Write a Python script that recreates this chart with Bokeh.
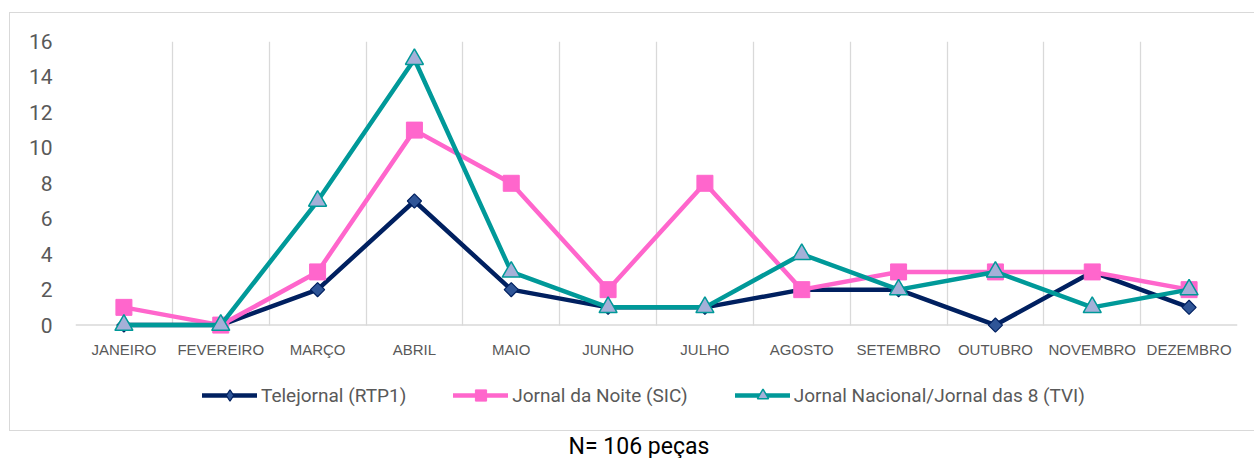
import numpy as np
from bokeh.plotting import figure
from bokeh.models import (FactorRange, Range1d, FixedTicker, Legend, LegendItem,
                          Span, Div)
from bokeh.layouts import column
from bokeh.embed import file_html
from bokeh.resources import INLINE

# ---- data ----
meses = ["JANEIRO", "FEVEREIRO", "MARÇO", "ABRIL", "MAIO", "JUNHO",
         "JULHO", "AGOSTO", "SETEMBRO", "OUTUBRO", "NOVEMBRO", "DEZEMBRO"]
rtp1 = [0, 0, 2, 7, 2, 1, 1, 2, 2, 0, 3, 1]
sic = [1, 0, 3, 11, 8, 2, 8, 2, 3, 3, 3, 2]
tvi = [0, 0, 7, 15, 3, 1, 1, 4, 2, 3, 1, 2]
y_ticks = [0, 2, 4, 6, 8, 10, 12, 14, 16]
nomes = ["Telejornal (RTP1)", "Jornal da Noite (SIC)",
         "Jornal Nacional/Jornal das 8 (TVI)"]
nota = "N= 106 peças"

FONT = "Roboto"
GRAY_TXT = "#595959"
GRID = "#d9d9d9"
BORDER = "1px solid #d9d9d9"

# series styles
styles = [
    dict(line_color="#002060", marker="square", angle=np.pi / 4, size=10,
         leg_marker="diamond", fill_color="#2f5597", m_line="#002060", m_lw=1.2),
    dict(line_color="#ff66cc", marker="square", angle=0.0, size=16,
         leg_marker="square", fill_color="#ff66cc", m_line="#ff66cc", m_lw=1.0),
    dict(line_color="#009999", marker="triangle", angle=0.0, size=18,
         leg_marker="triangle", fill_color="#a5b0d8", m_line="#009999", m_lw=1.5),
]
series = [rtp1, sic, tvi]

xr = FactorRange(*meses, range_padding=0)
p = figure(x_range=xr, y_range=Range1d(-0.7, 16),
           width=1244, height=347, title=None,
           output_backend="svg", toolbar_location=None,
           min_border_left=65, min_border_right=17,
           min_border_top=28, min_border_bottom=23)
p.outline_line_color = None
p.background_fill_color = "white"
p.border_fill_color = "white"

# grid: vertical lines at category boundaries only
p.ygrid.grid_line_color = None
g = p.xgrid[0]
g.ticker = FixedTicker(ticks=list(range(len(meses) + 1)))
g.grid_line_color = GRID
g.grid_line_width = 1.3
if "cross_bounds" in g.properties():
    g.cross_bounds = (0, 16)

# axes
xa = p.xaxis[0]
xa.axis_line_color = None
xa.major_tick_line_color = None
xa.minor_tick_line_color = None
xa.major_label_text_font = "Liberation Sans"
xa.major_label_text_font_size = "15px"
xa.major_label_text_color = GRAY_TXT
xa.major_label_standoff = -3

ya = p.yaxis[0]
ya.ticker = FixedTicker(ticks=y_ticks)
ya.axis_line_color = None
ya.major_tick_line_color = None
ya.minor_tick_line_color = None
ya.major_label_text_font = FONT
ya.major_label_text_font_size = "21px"
ya.major_label_text_color = GRAY_TXT
ya.major_label_standoff = 17

base = Span(location=0, dimension="width", line_color=GRID, line_width=1.5,
            level="underlay")
p.add_layout(base)

for vals, st in zip(series, styles):
    p.line(meses, vals, line_color=st["line_color"], line_width=4.5,
           line_join="round")
    p.scatter(meses, vals, marker=st["marker"], angle=st["angle"], size=st["size"],
              fill_color=st["fill_color"], line_color=st["m_line"],
              line_width=st["m_lw"])

# legend strip: same series drawn out of view, only the legend shows
pl = figure(width=1244, height=70, x_range=xr, y_range=Range1d(100, 101),
            output_backend="svg", toolbar_location=None, title=None,
            x_axis_location=None, y_axis_location=None,
            min_border_left=65, min_border_right=17,
            min_border_top=0, min_border_bottom=0)
pl.grid.visible = False
pl.outline_line_color = None
pl.border_fill_color = "white"
items = []
for name, vals, st in zip(nomes, series, styles):
    lr = pl.line(meses, vals, line_color=st["line_color"], line_width=4.5,
                 line_cap="round")
    sr = pl.scatter(meses, vals, marker=st["leg_marker"],
                    size=st["size"], fill_color=st["fill_color"],
                    line_color=st["m_line"], line_width=st["m_lw"])
    items.append(LegendItem(label=name, renderers=[lr, sr]))
legend = Legend(items=items, orientation="horizontal", location=(127, 21),
                spacing=47, glyph_width=55, glyph_height=28,
                label_standoff=4, padding=0, margin=0,
                border_line_color=None, background_fill_alpha=0,
                label_text_font=FONT, label_text_font_size="19px",
                label_text_color=GRAY_TXT)
pl.add_layout(legend, "center")

div = Div(text=('<div style="width:1244px;text-align:center;text-indent:6px;'
                'font-family:Roboto;font-size:23px;line-height:22px;color:#000;">'
                + nota + '</div>'),
          width=1244, height=27)

inner = column(p, pl, spacing=0,
               styles={"border-top": BORDER, "border-left": BORDER,
                       "border-bottom": BORDER})
layout = column(inner, div, spacing=0, margin=(12, 0, 0, 9))
open("out.html", "w").write(file_html(layout, INLINE))
